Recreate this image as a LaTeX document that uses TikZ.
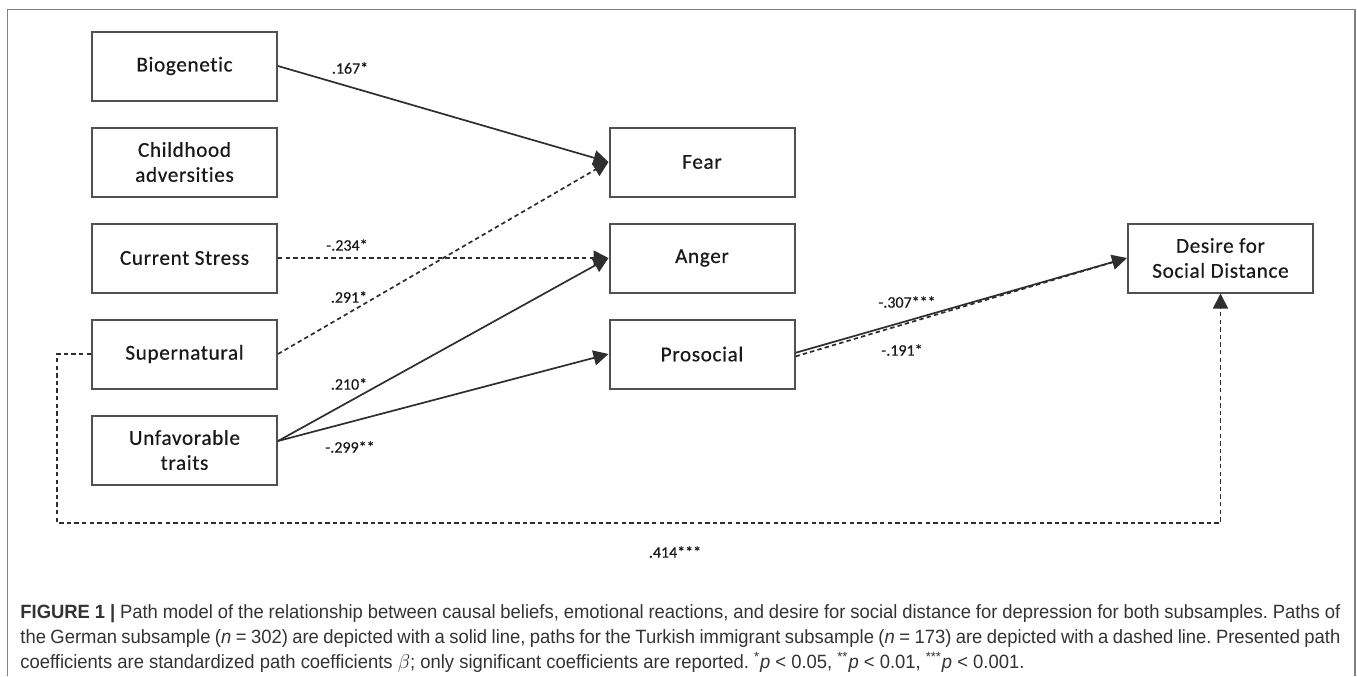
\documentclass[tikz,border=0pt]{standalone}
\usepackage{fontspec}
\setmainfont[FakeStretch=0.96]{Liberation Sans}
\newfontfamily\boxfont[LetterSpace=3, Ligatures=NoCommon, FakeBold=0.5]{Carlito}
\newfontfamily\coeffont[Ligatures=NoCommon, FakeBold=0.3]{Carlito}
\usetikzlibrary{arrows.meta}

\definecolor{linegray}{HTML}{2E2E2E}
\definecolor{boxgray}{HTML}{505050}
\definecolor{framegray}{HTML}{808080}

\tikzset{
  varbox/.style={draw=boxgray, line width=1pt, minimum width=92.5pt,
    minimum height=34.5pt, inner sep=0pt, align=center, text=black!90,
    font=\boxfont\fontsize{10.6}{12.5}\selectfont},
  coef/.style={text=black!90, inner sep=0pt, font=\coeffont\fontsize{8}{9}\selectfont},
  german/.style={linegray, line width=0.85pt, -{Triangle[length=7.5pt,width=7.5pt]}},
  turkish/.style={german, dash pattern=on 2.2pt off 1.6pt},
}

\begin{document}
\begin{tikzpicture}[x=0.5pt, y=-0.5pt]
\useasboundingbox (0,0) rectangle (1357,676);
\draw[framegray, line width=0.8pt] (7.5,676) |- (1355,9.5) -- (1355,676);

% causal beliefs
\foreach \name/\txt [count=\i from 0] in {bio/Biogenetic, chi/{Childhood\\adversities},
    cur/Current Stress, sup/Supernatural, unf/{Unfavorable\\traits}} {
 \node[varbox] (\name) at (184.5, 66+96*\i) {\txt};
}
% emotional reactions
\foreach \name/\txt [count=\i from 0] in {fear/Fear, anger/Anger, pro/Prosocial} {
 \node[varbox] (\name) at (702, 162+96*\i) {\txt};
}
\node[varbox] (dsd) at (1220.5,258) {Desire for\\Social Distance};

% paths
\draw[german] (bio.east) -- (fear.west);
\draw[turkish] (sup.east) -- (fear.west);
\draw[turkish] (cur.east) -- (anger.west);
\draw[german] ([yshift=4.5pt]unf.east) -- (anger.west);
\draw[german] ([yshift=4.5pt]unf.east) -- (pro.west);
\draw[german] ([yshift=0.6pt]pro.east) -- (dsd.west);
\draw[turkish, -] ([yshift=-1.2pt]pro.east) -- ([shift={(-4pt,-1.2pt)}]dsd.west);
\draw[turkish] (sup.west) -| (57,523) -| (dsd.south);

% coefficients
\node[coef] (c167) at (350,68) {.167*};
\node[coef] (c234) at (347,245) {-.234*};
\node[coef] (c291) at (349,297) {.291*};
\node[coef] (c210) at (349,384) {.210*};
\node[coef] (c299) at (350,447) {-.299**};
\node[coef] (c307) at (907,302) {-.307***};
\node[coef] (c191) at (902,350) {-.191*};
\node[coef] (c414) at (675,552) {.414***};

% caption
\node[anchor=north west, inner sep=0pt, text width=660pt, align=justify,
  text=black!80, font=\fontsize{9.6}{12.5}\selectfont\frenchspacing] (cap) at (20,604)
 {\textbf{FIGURE 1 |} Path model of the relationship between causal beliefs, emotional reactions, and desire for social distance for depression for both subsamples. Paths of\linebreak
 the German subsample (\textit{n} = 302) are depicted with a solid line, paths for the Turkish immigrant subsample (\textit{n} = 173) are depicted with a dashed line. Presented path\linebreak
 coefficients are standardized path coefficients $\beta$; only significant coefficients are reported. \textsuperscript{*}\textit{p} < 0.05, \textsuperscript{**}\textit{p} < 0.01, \textsuperscript{***}\textit{p} < 0.001.};
\end{tikzpicture}
\end{document}
